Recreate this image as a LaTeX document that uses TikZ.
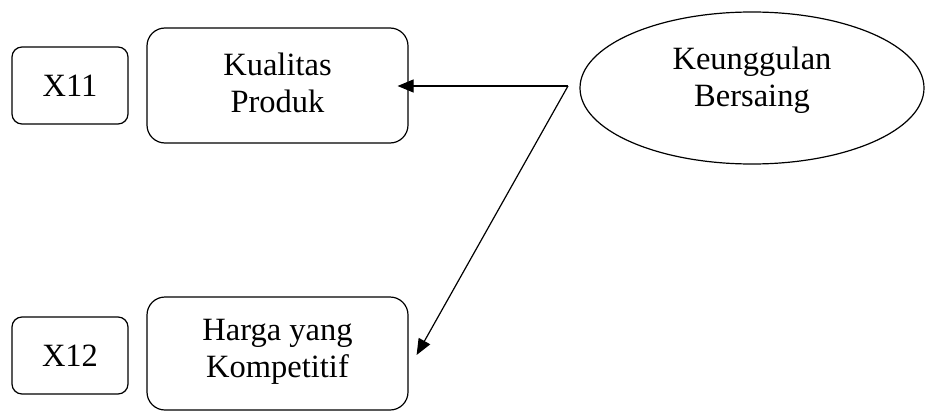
\documentclass[tikz,border=0pt]{standalone}
\usepackage{fontspec}
\setmainfont{Liberation Serif}
\usetikzlibrary{shapes.geometric,arrows.meta}
\begin{document}
\begin{tikzpicture}[x=1pt,y=-1pt,
  line width=1.2pt,
  txt/.style={align=center,font=\fontsize{32.5}{37}\selectfont,inner sep=0pt},
  smallbox/.style={draw,rounded corners=10pt,minimum width=116pt,minimum height=77pt,txt},
  bigbox/.style={draw,rounded corners=18pt,minimum width=261pt,txt},
  oval/.style={draw,ellipse,minimum width=344pt,minimum height=152pt,inner sep=0pt},
  link/.style={-{Triangle[length=16pt,width=13pt]}}
]
\useasboundingbox (0,0) rectangle (926,412);

% indicator boxes
\node[smallbox] (x11) at (70,85.5) {X11};
\node[smallbox] (x12) at (70,355.5) {X12};

% construct boxes
\node[bigbox,minimum height=115pt] (kp) at (277.5,85.5) {};
\node[txt] (kpt) at (277.5,83) {Kualitas\\Produk};
\node[bigbox,minimum height=113pt] (hk) at (277.5,353.5) {};
\node[txt] (hkt) at (277.5,352) {Harga yang\\Kompetitif};

% dependent construct
\node[oval] (kb) at (752,88) {};
\node[txt] (kbt) at (752,80.5) {Keunggulan\\Bersaing};

% connectors
\coordinate (fork) at (568,86);
\draw[link] (fork) -- ([xshift=-11pt,yshift=-0.5pt]kp.east);
\draw[link] (fork) -- ([xshift=8pt,yshift=-1.5pt]hk.east);
\end{tikzpicture}
\end{document}
